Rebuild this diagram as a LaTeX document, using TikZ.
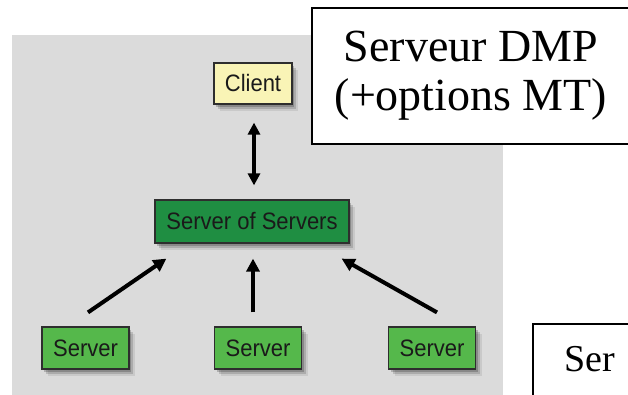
\documentclass[tikz,border=0pt]{standalone}
\usepackage{fontspec}
\setmainfont{Liberation Serif}
\newfontfamily\labelfont{Liberation Sans}
\usetikzlibrary{arrows.meta,shadows}

\definecolor{panelgray}{HTML}{DBDBDB}
\definecolor{boxline}{HTML}{2E2E2E}
\definecolor{boxtext}{HTML}{1A1A1A}
\definecolor{clientfill}{HTML}{F9F4B6}
\definecolor{hubfill}{HTML}{1F8E42}
\definecolor{leaffill}{HTML}{55B84B}

% box labels are set slightly taller than the plain font
\newcommand{\tallabel}[1]{\scalebox{1}[1.08]{#1}}

\tikzset{
  softshadow/.style={
    drop shadow={shadow xshift=2pt, shadow yshift=-3pt, opacity=0.2, fill=black},
    drop shadow={shadow xshift=4pt, shadow yshift=-5pt, opacity=0.15, fill=black},
    drop shadow={shadow xshift=6pt, shadow yshift=-7pt, opacity=0.08, fill=black}},
  unit/.style={draw=boxline, line width=1.2pt, inner sep=0pt, softshadow,
    text=boxtext, font=\labelfont\fontsize{22}{24}\selectfont},
  clientbox/.style={unit, fill=clientfill, minimum width=78pt, minimum height=41pt},
  hubbox/.style={unit, fill=hubfill, minimum width=194pt, minimum height=43pt},
  leafbox/.style={unit, fill=leaffill, minimum width=87pt, minimum height=42pt},
  framebox/.style={draw=black, line width=1.6pt, fill=white, inner sep=0pt},
  link/.style={line width=4pt, -{Triangle[length=13pt,width=13pt]}},
  twoway/.style={line width=3.5pt, {Triangle[length=12pt,width=12pt]}-{Triangle[length=12pt,width=12pt]}},
}

\begin{document}
\begin{tikzpicture}[x=1pt,y=-1pt]
  \path[use as bounding box, clip] (0,0) rectangle (628,395);
  \fill[white] (0,0) rectangle (628,395);

  % grey panel behind the hierarchy
  \fill[panelgray] (12,35) rectangle (503,400);

  % hierarchy of servers
  \node[clientbox] (client) at (253,83.5) {\tallabel{Client}};
  \node[hubbox]    (hub)    at (252,221.5) {\tallabel{Server of Servers}};
  \node[leafbox]   (s1)     at (85.5,348) {\tallabel{Server}};
  \node[leafbox]   (s2)     at (258,348) {\tallabel{Server}};
  \node[leafbox]   (s3)     at (432,348) {\tallabel{Server}};

  \draw[twoway] ([xshift=1pt,yshift=-18pt]client.south) -- ([xshift=2pt,yshift=14pt]hub.north);
  \draw[link] ([xshift=2.5pt,yshift=14pt]s1.north) -- ([xshift=12pt,yshift=-15pt]hub.south west);
  \draw[link] ([xshift=-5pt,yshift=14pt]s2.north)  -- ([xshift=1pt,yshift=-15pt]hub.south);
  \draw[link] ([xshift=5pt,yshift=14pt]s3.north)   -- ([xshift=-8pt,yshift=-15pt]hub.south east);

  % caption boxes
  \node[framebox, minimum width=318pt, minimum height=136pt, align=center,
        font=\fontsize{46}{49}\selectfont] (dmp) at (471,76)
        {Serveur DMP\\(+options MT)};

  \node[framebox, anchor=north west, minimum width=160pt, minimum height=120pt] (low) at (532,323) {};
  \node[anchor=base west, inner sep=0pt, font=\fontsize{38}{40}\selectfont] (lowtext) at (564,371) {Ser};
\end{tikzpicture}
\end{document}
